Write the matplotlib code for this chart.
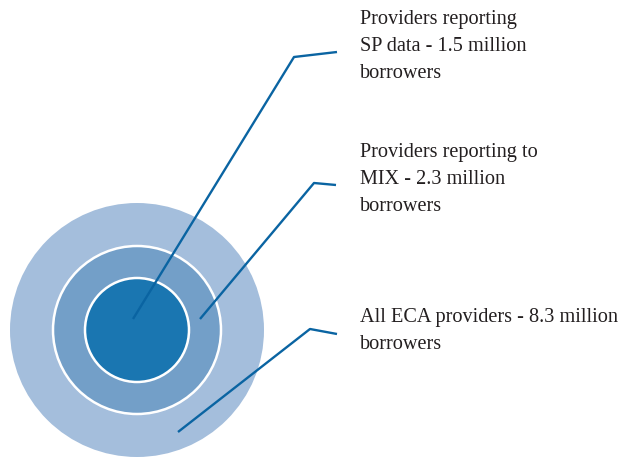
import matplotlib
matplotlib.use("Agg")
import matplotlib.pyplot as plt
from matplotlib.patches import Circle

# Data
labels = [
    "Providers reporting\nSP data - 1.5 million\nborrowers",
    "Providers reporting to\nMIX - 2.3 million\nborrowers",
    "All ECA providers - 8.3 million\nborrowers",
]
borrowers_millions = [1.5, 2.3, 8.3]

# Layout (pixel space)
W, H = 621, 460
center = (137, 331)
radii = [52, 84, 127]               # inner, middle, outer
fills = ["#1a76b1", "#739fc8", "#a4bedc"]
edges = ["white", "white", "none"]
line_color = "#0a64a2"
# leader lines: start, elbow, end
leaders = [
    [(133, 320), (294, 58), (337, 53)],
    [(200, 320), (314, 184), (336, 186)],
    [(178, 433), (310, 330), (337, 335)],
]
text_x = 360
first_baselines = [24, 157, 322]
line_step = 27

fig = plt.figure(figsize=(W / 100, H / 100), dpi=100)
ax = fig.add_axes([0, 0, 1, 1])
ax.set_xlim(0, W)
ax.set_ylim(H, 0)
ax.set_aspect("equal")
ax.axis("off")

# draw from outer to inner
for r, fc, ec in sorted(zip(radii, fills, edges), reverse=True):
    ax.add_patch(Circle(center, r, facecolor=fc,
                        edgecolor=ec, linewidth=1.8 if ec != "none" else 0, zorder=1))

for pts in leaders:
    xs, ys = zip(*pts)
    ax.plot(xs, ys, color=line_color, lw=1.7, solid_capstyle="butt", zorder=3)

for lab, y0 in zip(labels, first_baselines):
    for i, line in enumerate(lab.split("\n")):
        ax.text(text_x, y0 + i * line_step, line, fontsize=14.6,
                family="Liberation Serif", color="#231f20",
                ha="left", va="baseline")

fig.savefig("out.png", dpi=100)
